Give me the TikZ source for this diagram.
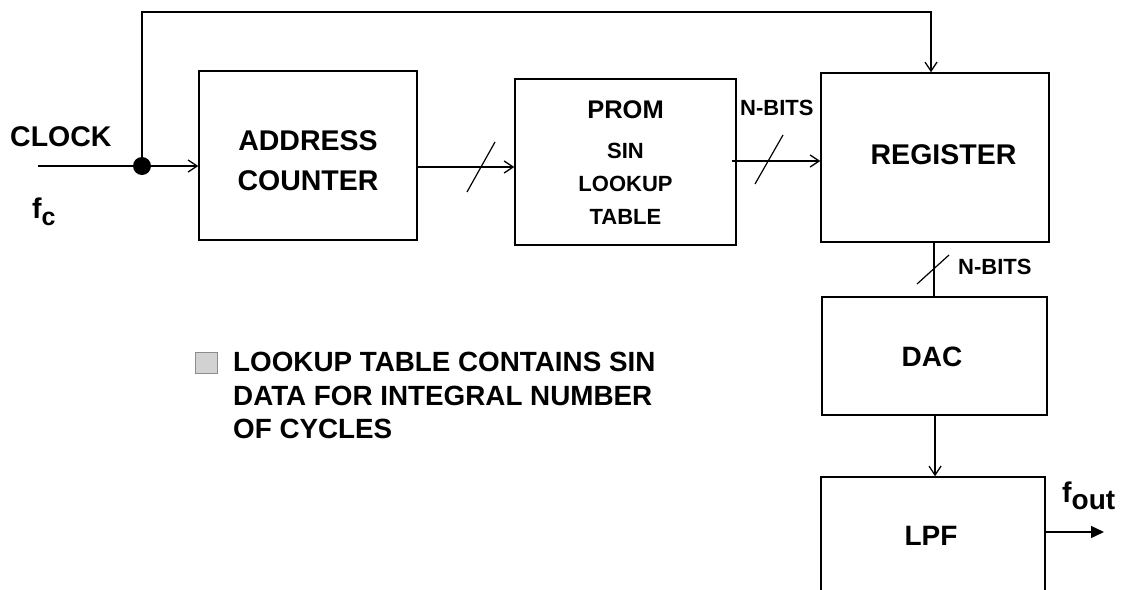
\documentclass[tikz,border=0pt]{standalone}
\usepackage{fontspec}
\setmainfont{Liberation Sans}
\usetikzlibrary{arrows.meta}
\newcommand{\fs}[1]{\fontsize{#1}{#1}\selectfont\bfseries}
\tikzset{
  blk/.style={draw, line width=1.5pt, inner sep=0pt},
  lbl/.style={inner sep=0pt, font=\fs{28.5}},
  wire/.style={line width=1.3pt},
  arr/.style={wire, -{Straight Barb[length=9pt,width=12pt,line width=1.3pt]}},
  outarr/.style={wire, -{Triangle[length=13pt,width=12pt]}},
  slash/.style={line width=1.2pt},
}
\begin{document}
\begin{tikzpicture}[x=1pt,y=-1pt]
\useasboundingbox (0,0) rectangle (1123,589);
\clip (0,0) rectangle (1123,589);
% blocks
\node[blk, minimum width=218pt, minimum height=169pt] (addr) at (308,155.5) {};
\node[blk, minimum width=221pt, minimum height=166pt] (prom) at (625.5,162) {};
\node[blk, minimum width=228pt, minimum height=169pt] (reg) at (935,157.5) {};
\node[blk, minimum width=225pt, minimum height=118pt] (dac) at (934.5,356) {};
\node[blk, minimum width=224pt, minimum height=160pt] (lpf) at (933,557) {};
% block texts
\node[lbl, align=center] (addrtxt) at (308,160.5) {\fs{28.5}ADDRESS\\[12pt]\fs{28.5}COUNTER};
\node[lbl, font=\fs{25.5}] (promtxt) at (625.5,110) {PROM};
\node[lbl, align=center] (sintxt) at (625.5,184) {\fs{22}SIN\\[4.5pt]\fs{22}LOOKUP\\[4.5pt]\fs{22}TABLE};
\node[lbl] (regtxt) at (943.5,155) {REGISTER};
\node[lbl, font=\fs{28}] (dactxt) at (932,357) {DAC};
\node[lbl, font=\fs{28}] (lpftxt) at (931,536) {LPF};
% clock input
\coordinate (clkin) at (38,166);
\node[circle, fill=black, inner sep=0pt, minimum size=18pt] (dot) at (142,166) {};
\node[lbl, anchor=west] (clock) at (10,137) {CLOCK};
\node[lbl, anchor=base west] (fc) at (32,218) {f\raisebox{-7pt}{\fs{25}c}};
\draw[wire] (clkin) -- (dot);
\draw[arr] (dot) -- (dot -| addr.west);
% feedback clock to register
\coordinate (fbtop) at (931,12);
\draw[arr] (dot.center) |- (fbtop) -- (fbtop |- reg.north);
% address -> prom
\coordinate (a2p) at (417,167);
\draw[arr] (a2p) -- (a2p -| prom.west);
\draw[slash] (467,192) -- (495,142);
% prom -> register
\coordinate (p2r) at (732,161);
\draw[arr] (p2r) -- (p2r -| reg.west);
\draw[slash] (755,184) -- (783,135);
\node[lbl, font=\fs{22}, anchor=west] (nb1) at (740,108) {N-BITS};
% register -> dac
\coordinate (r2d) at (934,242);
\draw[wire] (r2d) -- (r2d |- dac.north);
\draw[slash] (917,284) -- (949,255);
\node[lbl, font=\fs{22}, anchor=west] (nb2) at (958,267) {N-BITS};
% dac -> lpf
\coordinate (d2l) at (935,415);
\draw[arr] (d2l) -- (d2l |- lpf.north);
% output
\coordinate (lout) at (1045,532);
\coordinate (fend) at (1104,532);
\draw[outarr] (lout) -- (fend);
\node[lbl, anchor=base west] (fout) at (1062,502) {f\raisebox{-7pt}{\fs{28}out}};
% note
\node[draw=gray!90, fill=gray!35, line width=1pt, minimum width=22pt, minimum height=21pt, inner sep=0pt] (bullet) at (206.5,362.5) {};
\node[lbl, anchor=north west, align=left, font=\fs{27.8}] (note) at (233,352)
  {LOOKUP TABLE CONTAINS SIN\\[5.6pt]DATA FOR INTEGRAL NUMBER\\[5.6pt]OF CYCLES};
\end{tikzpicture}
\end{document}
